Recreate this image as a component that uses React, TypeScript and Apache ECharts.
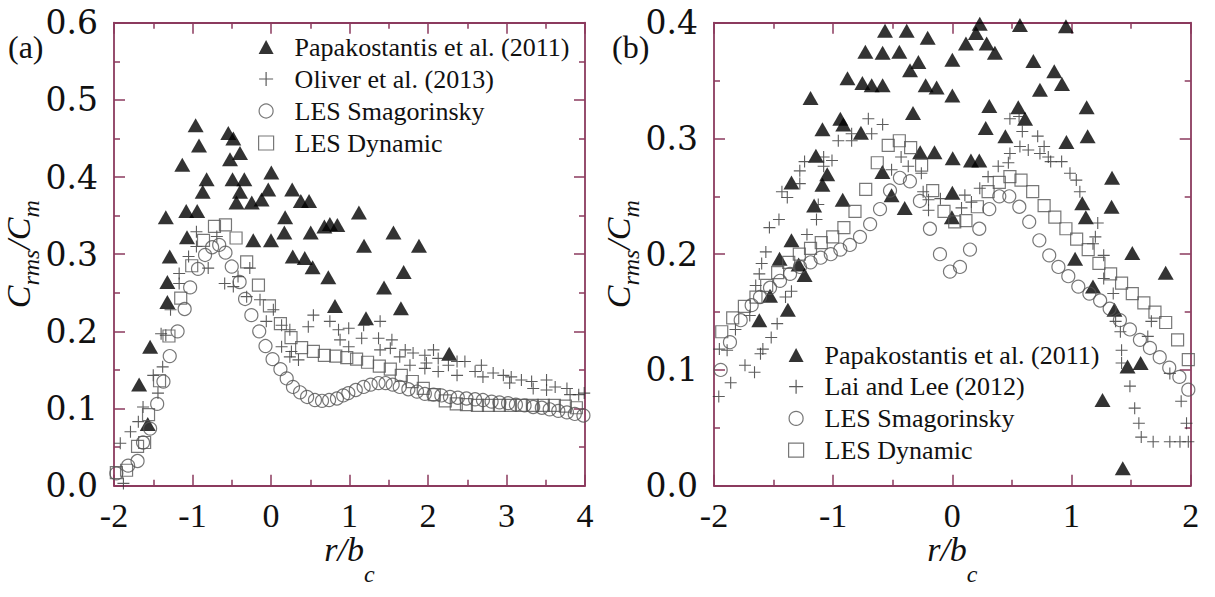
import React, { useEffect, useRef } from "react";
import * as echarts from "echarts";

const SERIF = "Liberation Serif";
const WIDE_SERIF = "DejaVu Serif";
const AXIS_COLOR = "#8b3a5e";
const INK = "#111";

// ---------- panel (a) ----------
const namesA = ["Papakostantis et al. (2011)", "Oliver et al. (2013)", "LES Smagorinsky", "LES Dynamic"];
const xTicksA = { min: -2, max: 4, interval: 1 };
const yTicksA = { min: 0, max: 0.6, interval: 0.1 };

const papakostantisA: [number, number][] = [
  [-0.96, 0.467], [-0.544, 0.457], [-0.48, 0.45], [-0.917, 0.441], [-0.395, 0.431], [-0.522, 0.423],
  [-1.13, 0.416], [0.004, 0.406], [-0.82, 0.397], [-0.49, 0.397], [-0.34, 0.397], [-0.035, 0.384],
  [0.27, 0.384], [-0.87, 0.381], [-0.395, 0.381], [-0.12, 0.371], [-0.245, 0.367], [-0.44, 0.367],
  [0.38, 0.369], [0.485, 0.369], [-1.34, 0.348], [-1.08, 0.356], [-0.94, 0.356], [0.18, 0.348],
  [0.68, 0.336], [0.75, 0.339], [0.845, 0.338], [-1.07, 0.322], [-0.226, 0.318], [0.0, 0.318],
  [0.17, 0.328], [0.506, 0.328], [-1.29, 0.297], [0.277, 0.297], [0.43, 0.295], [1.12, 0.354],
  [1.56, 0.328], [1.185, 0.311], [1.885, 0.311], [0.53, 0.283], [0.73, 0.27], [-1.32, 0.264],
  [-1.32, 0.238], [0.815, 0.233], [-1.54, 0.18], [-1.68, 0.131], [-1.57, 0.08], [1.69, 0.277],
  [1.44, 0.257], [1.655, 0.23], [1.21, 0.217], [2.27, 0.171],
];

const oliverA: [number, number][] = [
  [-1.88, 0.003], [-1.92, 0.055], [-1.79, 0.07], [-1.69, 0.083], [-1.63, 0.102], [-1.44, 0.12],
  [-1.5, 0.143], [-1.38, 0.154], [-1.4, 0.197], [-1.34, 0.195], [-1.28, 0.228], [-1.17, 0.262],
  [-1.17, 0.275], [-1.05, 0.297], [-0.95, 0.31], [-0.95, 0.329], [-0.69, 0.323], [-0.8, 0.282],
  [-0.59, 0.262], [-0.48, 0.258], [-0.42, 0.271], [-0.27, 0.282], [-0.31, 0.245], [-0.14, 0.241],
  [0.03, 0.228], [-0.06, 0.213], [0.135, 0.208], [0.24, 0.202], [0.54, 0.221], [0.475, 0.206],
  [0.75, 0.213], [0.86, 0.202], [0.99, 0.204], [0.135, 0.18], [0.26, 0.174], [0.35, 0.163],
  [0.24, 0.167], [0.88, 0.189], [0.99, 0.18], [1.18, 0.208], [1.155, 0.191], [1.39, 0.213],
  [1.37, 0.191], [1.54, 0.189], [1.52, 0.178], [1.39, 0.176], [1.71, 0.176], [1.81, 0.172],
  [1.64, 0.167], [1.77, 0.156], [1.96, 0.169], [2.07, 0.176], [2.13, 0.165], [1.98, 0.159],
  [1.96, 0.152], [2.13, 0.148], [2.26, 0.156], [2.37, 0.161], [2.47, 0.161], [2.37, 0.143],
  [2.6, 0.148], [2.68, 0.156], [2.7, 0.141], [2.83, 0.146], [2.96, 0.143], [3.06, 0.141],
  [3.04, 0.133], [3.19, 0.137], [3.32, 0.135], [3.34, 0.126], [3.51, 0.137], [3.51, 0.124],
  [3.62, 0.128], [3.77, 0.126], [3.81, 0.118], [3.92, 0.118], [3.99, 0.12],
];

const smagorinskyA: [number, number][] = [
  [-1.97, 0.016], [-1.82, 0.026], [-1.7, 0.032], [-1.63, 0.056], [-1.54, 0.074], [-1.45, 0.106],
  [-1.37, 0.135], [-1.29, 0.168], [-1.19, 0.2], [-1.1, 0.229], [-1.03, 0.257], [-0.93, 0.281],
  [-0.84, 0.299], [-0.75, 0.309], [-0.66, 0.312], [-0.58, 0.302], [-0.5, 0.284], [-0.4, 0.264],
  [-0.33, 0.242], [-0.25, 0.221], [-0.15, 0.2], [-0.07, 0.181], [0.02, 0.164], [0.12, 0.151],
  [0.2, 0.139], [0.28, 0.128], [0.37, 0.121], [0.46, 0.115], [0.56, 0.111], [0.65, 0.11],
  [0.74, 0.111], [0.84, 0.113], [0.92, 0.117], [0.985, 0.12], [1.08, 0.124], [1.18, 0.128],
  [1.27, 0.131], [1.37, 0.133], [1.46, 0.133], [1.55, 0.131], [1.64, 0.128], [1.75, 0.125],
  [1.86, 0.122], [1.96, 0.119], [2.07, 0.118], [2.17, 0.117], [2.28, 0.115], [2.38, 0.114],
  [2.49, 0.113], [2.6, 0.112], [2.7, 0.111], [2.81, 0.109], [2.91, 0.108], [3.02, 0.107],
  [3.12, 0.105], [3.23, 0.104], [3.34, 0.102], [3.45, 0.101], [3.55, 0.099], [3.66, 0.097],
  [3.77, 0.095], [3.87, 0.093], [3.98, 0.091],
];

const dynamicA: [number, number][] = [
  [-1.97, 0.017], [-1.84, 0.02], [-1.7, 0.051], [-1.61, 0.056], [-1.56, 0.092], [-1.42, 0.136],
  [-1.3, 0.194], [-1.15, 0.243], [-1.01, 0.285], [-0.86, 0.318], [-0.72, 0.336], [-0.58, 0.338],
  [-0.445, 0.321], [-0.31, 0.29], [-0.16, 0.26], [-0.02, 0.233], [0.12, 0.21], [0.255, 0.192],
  [0.39, 0.179], [0.54, 0.174], [0.68, 0.169], [0.825, 0.168], [0.965, 0.166], [1.09, 0.164],
  [1.23, 0.16], [1.38, 0.155], [1.52, 0.151], [1.66, 0.143], [1.8, 0.135], [1.94, 0.126],
  [2.08, 0.118], [2.22, 0.11], [2.36, 0.106], [2.49, 0.105], [2.63, 0.104], [2.77, 0.104],
  [2.91, 0.104], [3.05, 0.104], [3.19, 0.104], [3.33, 0.104], [3.47, 0.104], [3.61, 0.104],
  [3.75, 0.103], [3.89, 0.101],
];

// ---------- panel (b) ----------
const namesB = ["Papakostantis et al. (2011)", "Lai and Lee (2012)", "LES Smagorinsky", "LES Dynamic"];
const xTicksB = { min: -2, max: 2, interval: 1 };
const yTicksB = { min: 0, max: 0.4, interval: 0.1 };

const papakostantisB: [number, number][] = [
  [-0.565, 0.393], [-0.383, 0.393], [-0.207, 0.387], [-0.73, 0.375], [-0.585, 0.374], [-0.445, 0.375],
  [-0.285, 0.366], [-0.355, 0.359], [-0.88, 0.352], [-0.755, 0.348], [-0.677, 0.346], [-0.585, 0.346],
  [-0.224, 0.346], [-0.132, 0.344], [-1.19, 0.335], [-0.33, 0.322], [-0.94, 0.317], [-0.915, 0.312],
  [-1.09, 0.308], [-0.767, 0.305], [-0.27, 0.288], [-0.15, 0.288], [-1.145, 0.285], [-0.587, 0.271],
  [-1.05, 0.269], [-1.35, 0.262], [-1.09, 0.26], [-0.92, 0.247], [-0.51, 0.251], [-1.16, 0.242],
  [-0.4, 0.24], [-1.35, 0.212], [-1.45, 0.196], [0.0, 0.368], [0.0, 0.337],
  [0.23, 0.399], [0.567, 0.398], [0.953, 0.397], [0.198, 0.391], [0.114, 0.382], [0.288, 0.382],
  [0.357, 0.374], [0.68, 0.367], [0.855, 0.358], [0.92, 0.347], [0.735, 0.342], [0.31, 0.328],
  [0.553, 0.327], [1.127, 0.327], [0.61, 0.317], [0.28, 0.309], [0.445, 0.302], [0.957, 0.297],
  [1.135, 0.302], [0.003, 0.283], [0.156, 0.281], [0.226, 0.281], [1.34, 0.266], [0.0, 0.253],
  [1.09, 0.244], [1.336, 0.241], [1.12, 0.232], [-0.004, 0.232], [1.51, 0.201], [1.03, 0.196],
  [-1.29, 0.191], [-1.24, 0.182], [-1.53, 0.164], [-1.38, 0.152], [-1.62, 0.143],
  [1.79, 0.184], [1.18, 0.172], [1.36, 0.152], [1.47, 0.103], [1.58, 0.106], [1.26, 0.074], [1.43, 0.015],
];

const laiLeeB: [number, number][] = [
  [-1.96, 0.077], [-1.86, 0.089], [-1.955, 0.118], [-1.89, 0.117], [-1.74, 0.104], [-1.66, 0.098],
  [-1.61, 0.114], [-1.59, 0.118], [-1.52, 0.128], [-1.47, 0.14], [-1.82, 0.135], [-1.7, 0.147],
  [-1.65, 0.173], [-1.62, 0.183], [-1.6, 0.192], [-1.565, 0.202], [-1.4, 0.163], [-1.35, 0.168],
  [-1.535, 0.223], [-1.455, 0.23], [-1.22, 0.217], [-1.14, 0.23], [-1.125, 0.243], [-1.385, 0.249],
  [-1.43, 0.254], [-1.28, 0.261], [-1.28, 0.272], [-1.24, 0.28], [-1.08, 0.284], [-1.01, 0.281],
  [-1.08, 0.276], [-0.957, 0.298], [-0.845, 0.298], [-0.845, 0.304], [-0.677, 0.304], [-0.705, 0.317],
  [-0.585, 0.312], [-0.43, 0.284], [-0.37, 0.276], [-0.51, 0.273], [-0.26, 0.27], [-0.245, 0.254],
  [-0.2, 0.247], [-0.2, 0.238], [-0.1, 0.248], [0.105, 0.251], [0.16, 0.245], [0.077, 0.24],
  [0.23, 0.257], [0.3, 0.267], [0.385, 0.276], [0.47, 0.279], [0.483, 0.287], [0.567, 0.293],
  [0.637, 0.29], [0.587, 0.306], [0.483, 0.317], [0.56, 0.319], [0.716, 0.302], [0.77, 0.293],
  [0.735, 0.287], [0.805, 0.284], [0.825, 0.28], [0.917, 0.28], [0.987, 0.27], [1.04, 0.264],
  [1.07, 0.254], [1.22, 0.227], [1.2, 0.215], [1.18, 0.209], [1.27, 0.199], [1.27, 0.179],
  [1.35, 0.166], [1.37, 0.142], [1.41, 0.133], [1.42, 0.117], [1.42, 0.106], [1.49, 0.086],
  [1.53, 0.067], [1.565, 0.054], [1.585, 0.042], [1.685, 0.038], [1.825, 0.038], [1.91, 0.038],
  [1.98, 0.038], [1.965, 0.054], [1.92, 0.073], [1.825, 0.097], [1.64, 0.129], [1.67, 0.142],
];

const smagorinskyB: [number, number][] = [
  [-1.944, 0.1], [-1.866, 0.124], [-1.776, 0.143], [-1.684, 0.156], [-1.614, 0.163], [-1.53, 0.171],
  [-1.446, 0.177], [-1.362, 0.183], [-1.279, 0.189], [-1.19, 0.193], [-1.105, 0.197], [-1.02, 0.2],
  [-0.94, 0.204], [-0.86, 0.208], [-0.775, 0.215], [-0.69, 0.226], [-0.607, 0.239], [-0.523, 0.255],
  [-0.44, 0.266], [-0.356, 0.263], [-0.272, 0.246], [-0.188, 0.222], [-0.104, 0.2], [-0.02, 0.185],
  [0.064, 0.189], [0.148, 0.204], [0.226, 0.222], [0.31, 0.239], [0.394, 0.25], [0.478, 0.25],
  [0.562, 0.241], [0.645, 0.228], [0.73, 0.212], [0.813, 0.199], [0.89, 0.189], [0.973, 0.181],
  [1.057, 0.172], [1.15, 0.166], [1.24, 0.16], [1.32, 0.153], [1.406, 0.143], [1.49, 0.135],
  [1.574, 0.126], [1.658, 0.119], [1.74, 0.111], [1.82, 0.102], [1.905, 0.094], [1.98, 0.083],
];

const dynamicB: [number, number][] = [
  [-1.935, 0.133], [-1.843, 0.145], [-1.745, 0.155], [-1.648, 0.163], [-1.558, 0.173], [-1.466, 0.184],
  [-1.373, 0.193], [-1.284, 0.2], [-1.19, 0.205], [-1.1, 0.21], [-1.004, 0.215], [-0.91, 0.223],
  [-0.817, 0.237], [-0.727, 0.256], [-0.63, 0.279], [-0.538, 0.294], [-0.445, 0.298], [-0.35, 0.292],
  [-0.258, 0.277], [-0.165, 0.255], [-0.07, 0.237], [0.02, 0.228], [0.114, 0.229], [0.21, 0.241],
  [0.3, 0.254], [0.394, 0.262], [0.483, 0.267], [0.576, 0.264], [0.674, 0.254], [0.77, 0.242],
  [0.86, 0.232], [0.953, 0.222], [1.043, 0.213], [1.14, 0.204], [1.23, 0.192], [1.328, 0.183],
  [1.42, 0.175], [1.51, 0.166], [1.607, 0.158], [1.7, 0.15], [1.79, 0.141], [1.89, 0.126], [1.98, 0.109],
];

// ---------- marker styles ----------
const PLUS = "path://M0,6L12,6M6,0L6,12";

type Kind = "tri" | "plus" | "circle" | "square";

function scatter(name: string, data: [number, number][], kind: Kind, axis: number) {
  const base: any = {
    type: "scatter",
    name,
    data,
    xAxisIndex: axis,
    yAxisIndex: axis,
    silent: true,
  };
  if (kind === "tri") {
    return { ...base, symbol: "triangle", symbolSize: [16, 14], itemStyle: { color: "#000" } };
  }
  if (kind === "plus") {
    return {
      ...base,
      symbol: PLUS,
      symbolSize: 12,
      itemStyle: { color: "transparent", borderColor: "#333", borderWidth: 1.1 },
    };
  }
  if (kind === "circle") {
    return {
      ...base,
      symbol: "circle",
      symbolSize: 13,
      itemStyle: { color: "transparent", borderColor: "#555", borderWidth: 1.2 },
    };
  }
  return {
    ...base,
    symbol: "rect",
    symbolSize: 12,
    itemStyle: { color: "transparent", borderColor: "#555", borderWidth: 1.2 },
  };
}

function axis(
  kind: "x" | "y",
  gridIndex: number,
  range: { min: number; max: number; interval: number },
  position: string,
  labels: boolean
) {
  const lineStyle = { color: AXIS_COLOR, width: 1.5 };
  return {
    type: "value",
    gridIndex,
    position,
    min: range.min,
    max: range.max,
    interval: range.interval,
    axisLine: { show: true, onZero: false, lineStyle: { color: AXIS_COLOR, width: 1.8 } },
    axisTick: { show: true, inside: true, length: 11, lineStyle },
    minorTick: { show: true, splitNumber: 2, length: 6, lineStyle },
    splitLine: { show: false },
    minorSplitLine: { show: false },
    axisLabel: {
      show: labels,
      fontFamily: kind === "y" ? WIDE_SERIF : SERIF,
      fontSize: kind === "y" ? 33 : 34,
      color: INK,
      margin: kind === "x" ? 13 : 16,
      formatter: (v: number) => (kind === "y" ? v.toFixed(1) : String(Math.round(v))),
    },
  };
}

// italic symbols with lowered subscripts
const yName = "{i|C}{s|rms}{i|/C}{s|m}";
const xName = "{i|r/b}{s|c}";

function nameRich(subDrop: number) {
  return {
    i: { fontFamily: SERIF, fontStyle: "italic", fontSize: 34, lineHeight: 36, verticalAlign: "top", color: INK },
    s: {
      fontFamily: SERIF,
      fontStyle: "italic",
      fontSize: 24,
      lineHeight: 24 + subDrop,
      verticalAlign: "top",
      padding: [subDrop, 0, 0, 0],
      color: INK,
    },
  };
}

function legend(left: number, top: number, data: string[], gap: number) {
  return {
    left,
    top,
    orient: "vertical",
    selectedMode: false,
    itemWidth: 15,
    itemHeight: 14,
    itemGap: gap,
    itemStyle: { borderWidth: 1.2 },
    textStyle: { fontFamily: SERIF, fontSize: 26, lineHeight: 26, color: INK, padding: [0, 0, 0, 16] },
    data,
  };
}

export default function App() {
  const ref = useRef<HTMLDivElement>(null);

  useEffect(() => {
    if (!ref.current) return;
    const chart = echarts.init(ref.current, undefined, { renderer: "svg" });

    const xNameCfg = {
      name: xName,
      nameLocation: "middle",
      nameGap: 47,
      nameMoveOverlap: false,
      nameTextStyle: { fontFamily: SERIF, rich: nameRich(29) },
    };
    const yNameCfg = {
      name: yName,
      nameLocation: "middle",
      nameRotate: 90,
      nameGap: 71,
      nameMoveOverlap: false,
      nameTextStyle: { fontFamily: SERIF, rich: nameRich(18) },
    };

    chart.setOption({
      animation: false,
      backgroundColor: "#fff",
      textStyle: { fontFamily: SERIF },
      grid: [
        { left: 114, top: 22.7, width: 471, height: 463, containLabel: false, outerBoundsMode: "none" },
        { left: 714, top: 22.7, width: 476.7, height: 463, containLabel: false, outerBoundsMode: "none" },
      ],
      xAxis: [
        { ...axis("x", 0, xTicksA, "bottom", true), ...xNameCfg },
        axis("x", 0, xTicksA, "top", false),
        { ...axis("x", 1, xTicksB, "bottom", true), ...xNameCfg },
        axis("x", 1, xTicksB, "top", false),
      ],
      yAxis: [
        { ...axis("y", 0, yTicksA, "left", true), ...yNameCfg },
        axis("y", 0, yTicksA, "right", false),
        { ...axis("y", 1, yTicksB, "left", true), ...yNameCfg },
        axis("y", 1, yTicksB, "right", false),
      ],
      legend: [legend(253, 29, namesA, 6), legend(783, 337, namesB, 5.7)],
      graphic: [
        { type: "text", left: 8, top: 31, style: { text: "(a)", fontFamily: SERIF, fontSize: 32, fill: INK } },
        { type: "text", left: 612, top: 31, style: { text: "(b)", fontFamily: SERIF, fontSize: 32, fill: INK } },
      ],
      series: [
        scatter(namesA[0], papakostantisA, "tri", 0),
        scatter(namesA[1], oliverA, "plus", 0),
        scatter(namesA[2], smagorinskyA, "circle", 0),
        scatter(namesA[3], dynamicA, "square", 0),
        scatter(namesB[0], papakostantisB, "tri", 2),
        scatter(namesB[1], laiLeeB, "plus", 2),
        scatter(namesB[2], smagorinskyB, "circle", 2),
        scatter(namesB[3], dynamicB, "square", 2),
      ],
    });

    return () => chart.dispose();
  }, []);

  return (
    <div
      ref={ref}
      style={{ position: "fixed", left: 0, top: 0, width: 1215, height: 597, background: "#fff" }}
    />
  );
}
